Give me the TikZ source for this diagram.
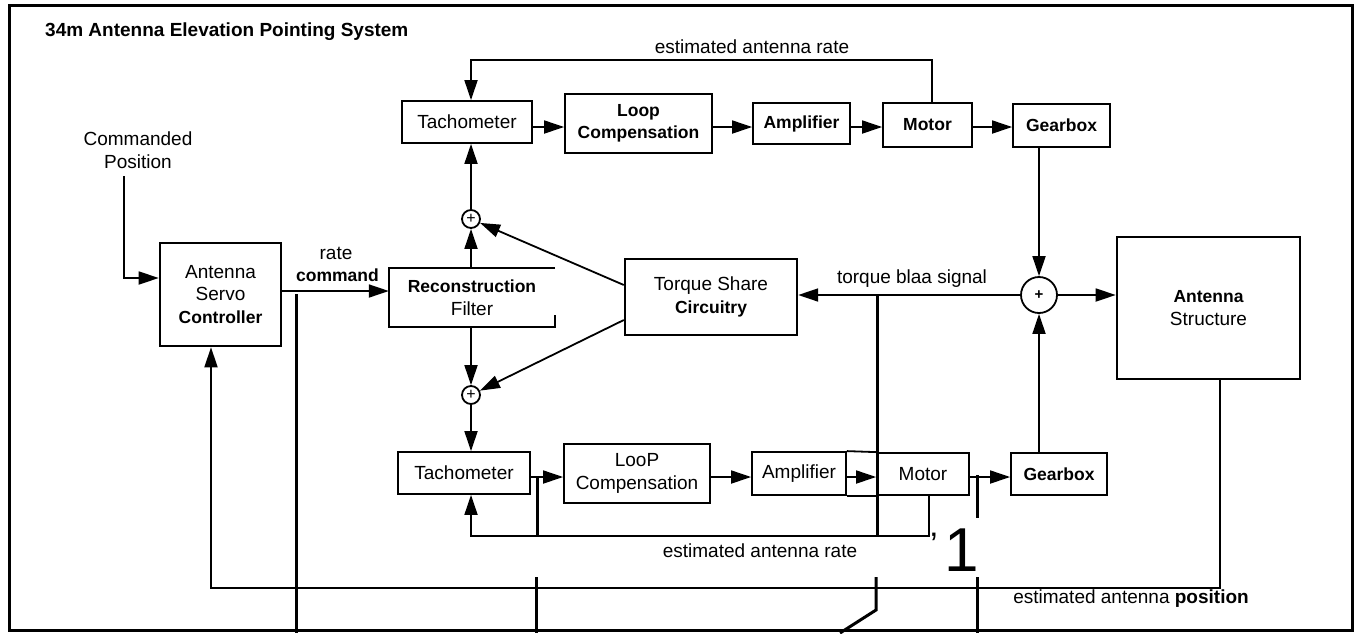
\documentclass[tikz,border=0pt]{standalone}
\usepackage{fontspec}
\setmainfont{Liberation Sans}
\usetikzlibrary{arrows.meta,calc}
\newcommand\boldlbl[1]{{\fontsize{17.5}{22}\selectfont\bfseries #1}}
\begin{document}
\begin{tikzpicture}[x=1pt,y=-1pt,
  every node/.style={font=\fontsize{19}{22.5}\selectfont, inner sep=0pt, align=center},
  blk/.style={draw, line width=1.8pt, inner sep=0pt},
  sumc/.style={draw, circle, line width=1.8pt, minimum size=18pt, inner sep=0pt},
  arr/.style={line width=1.8pt, -{Triangle[length=20pt,width=13pt]}},
  ln/.style={line width=1.8pt},
  stray/.style={line width=3pt}]
\useasboundingbox (0,0) rectangle (1356,633);
% frame
\draw[line width=3pt] (9,5) rectangle (1352,630);
% title
\node[anchor=west, font=\fontsize{19}{22}\selectfont\bfseries] (title) at (45,32) {34m Antenna Elevation Pointing System};
% left part
\node (cmd) at (138,150) {Commanded\\Position};
\node[blk, line width=2.6pt, minimum width=121pt, minimum height=103pt] (asc) at (220.5,294.5) {Antenna\\Servo\\\boldlbl{Controller}};
\node (rate) at (336,253) {rate};
\node[anchor=east] (rcmd) at (379,275) {\boldlbl{command}};
% top row
\node[blk, minimum width=130pt, minimum height=42pt] (tachT) at (467,122) {Tachometer};
\node[blk, minimum width=147pt, minimum height=59pt] (loopT) at (638.5,123.5) {\boldlbl{Loop}\\\boldlbl{Compensation}};
\node[blk, minimum width=97pt, minimum height=41pt] (ampT) at (801.5,123.5) {\boldlbl{Amplifier}};
\node[blk, minimum width=89pt, minimum height=44pt] (motT) at (927.5,125) {\boldlbl{Motor}};
\node[blk, minimum width=97pt, minimum height=43pt] (gearT) at (1061.5,125.5) {\boldlbl{Gearbox}};
% middle
\node[minimum width=166pt, minimum height=59pt] (recon) at (472,297.5) {\boldlbl{Reconstruction}\\Filter};
\draw[ln] (recon.north east) -- (recon.north west) -- (recon.south west) -- (recon.south east) -- ++(0,-12);
\node[blk, line width=2.4pt, minimum width=172pt, minimum height=76pt] (torque) at (711,297) {Torque Share\\\boldlbl{Circuitry}};
\node[blk, line width=2.6pt, minimum width=183pt, minimum height=142pt] (ant) at (1208.5,308) {\boldlbl{Antenna}\\Structure};
% bottom row
\node[blk, minimum width=132pt, minimum height=42pt] (tachB) at (464,473) {Tachometer};
\node[blk, minimum width=146pt, minimum height=59pt] (loopB) at (637,473.5) {LooP\\Compensation};
\node[blk, minimum width=94pt, minimum height=43pt] (ampB) at (799,473.5) {Amplifier};
\node[blk, minimum width=92pt, minimum height=42pt] (motB) at (923,474) {Motor};
\node[blk, minimum width=96pt, minimum height=42pt] (gearB) at (1059,474) {\boldlbl{Gearbox}};
\draw[ln] (ampB.north east) -- (motB.north west);
\draw[ln] (ampB.south east) -- (motB.south west);
% summing junctions
\node[sumc] (s1) at (471,219) {\fontsize{16}{16}\selectfont +};
\node[sumc] (s2) at (471,395) {\fontsize{16}{16}\selectfont +};
\node[sumc, minimum size=36pt] (s3) at (1039,295) {\fontsize{15}{15}\selectfont\bfseries +};
% helper coordinates
\coordinate (yT) at (0,127);
\coordinate (yB) at (0,477);
\coordinate (yC) at (0,278);
\coordinate (yR) at (0,291);
\coordinate (tq1) at (0,285);
\coordinate (tq2) at (0,320);
\coordinate (fbT) at (932,60);
\coordinate (fbB) at (929,536);
\coordinate (fbP) at (1220,588);
\coordinate (fbPl) at (211,588);
\coordinate (cmdin) at (124,176);
% top chain
\draw[arr] (tachT.east |- yT) -- (loopT.west |- yT);
\draw[arr] (loopT.east |- yT) -- (ampT.west |- yT);
\draw[arr] (ampT.east |- yT) -- (motT.west |- yT);
\draw[arr] (motT.east |- yT) -- (gearT.west |- yT);
% bottom chain
\draw[arr] (tachB.east |- yB) -- (loopB.west |- yB);
\draw[arr] (loopB.east |- yB) -- (ampB.west |- yB);
\draw[arr] (ampB.east |- yB) -- (motB.west |- yB);
\draw[arr] (motB.east |- yB) -- (gearB.west |- yB);
% top rate feedback
\draw[arr] (motT.north -| fbT) -- (fbT) -| (tachT.north -| s1);
\node (lblT) at (752,47) {estimated antenna rate};
% bottom rate feedback
\draw[arr] (motB.south -| fbB) -- (fbB) -| (tachB.south -| s2);
\node (lblB) at (760,551) {estimated antenna rate};
% junction links
\draw[arr] (s1.north) -- (s1.north |- tachT.south);
\draw[arr] (recon.north -| s1) -- (s1.south);
\draw[arr] (recon.south -| s2) -- (s2.north);
\draw[arr] (s2.south) -- (s2.south |- tachB.north);
\draw[arr] (torque.west |- tq1) -- (s1);
\draw[arr] (torque.west |- tq2) -- (s2);
% torque bias
\draw[arr] (s3.west) -- (s3.west -| torque.east);
\node (lblTB) at (912,279) {torque blaa signal};
\draw[arr] (s3.east) -- (s3.east -| ant.west);
\draw[arr] (gearT.south -| s3) -- (s3.north);
\draw[arr] (gearB.north -| s3) -- (s3.south);
% command inputs
\draw[arr] (cmdin) |- (asc.west |- yC);
\draw[arr] (asc.east |- yR) -- (recon.west |- yR);
% position feedback
\draw[arr] (ant.south -| fbP) -- (fbP) -| (asc.south -| fbPl);
\node (lblP) at (1131,599) {estimated antenna \textbf{position}};
% stray scan marks
\draw[stray] (296,294) -- (296,633);
\draw[stray] (537,477) -- (537,536);
\draw[stray] (536,577) -- (536,633);
\draw[stray] (877,295) -- (877,536);
\draw[stray] (876,577) -- (876,610) -- (840,633);
\draw[stray] (977,475) -- (977,518);
\draw[stray] (977,577) -- (977,633);
\node[font=\fontsize{62}{62}\selectfont] (one) at (962,550) {1};
\node[font=\fontsize{34}{34}\selectfont] (tick) at (934,545) {'};
\end{tikzpicture}
\end{document}
